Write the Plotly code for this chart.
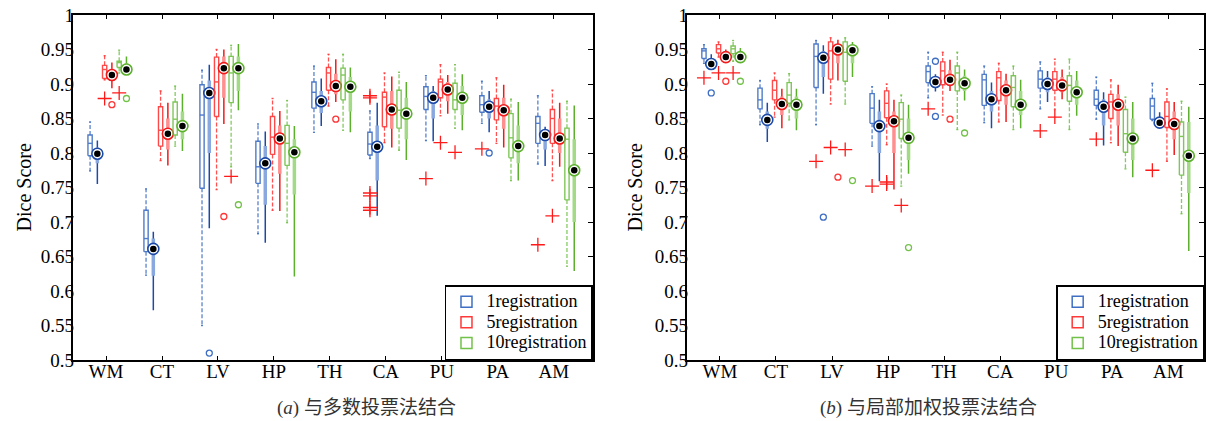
import plotly.graph_objects as go

categories = ["WM", "CT", "LV", "HP", "TH", "CA", "PU", "PA", "AM"]
series_names = ["1registration", "5registration", "10registration"]
y_ticks = [0.5, 0.55, 0.6, 0.65, 0.7, 0.75, 0.8, 0.85, 0.9, 0.95, 1.0]
y_tick_text = ["0.5", "0.55", "0.6", "0.65", "0.7", "0.75", "0.8", "0.85", "0.9", "0.95", "1"]
captions = ["(<i>a</i>) 与多数投票法结合", "(<i>b</i>) 与局部加权投票法结合"]

# ---- panel (a): standard boxes (lo, q1, median, q3, hi) per category
a_box_1 = [(0.774, 0.796, 0.814, 0.826, 0.845), (0.623, 0.657, 0.676, 0.717, 0.748),
           (0.550, 0.749, 0.855, 0.899, 0.920), (0.683, 0.756, 0.780, 0.817, 0.842),
           (0.830, 0.865, 0.888, 0.903, 0.926), (0.792, 0.797, 0.813, 0.830, 0.861),
           (0.818, 0.863, 0.882, 0.896, 0.912), (0.843, 0.859, 0.870, 0.883, 0.904),
           (0.784, 0.814, 0.843, 0.853, 0.883)]
a_box_5 = [(0.906, 0.908, 0.921, 0.927, 0.941), (0.789, 0.810, 0.833, 0.867, 0.890),
           (0.747, 0.853, 0.903, 0.939, 0.950), (0.717, 0.798, 0.823, 0.853, 0.879),
           (0.868, 0.891, 0.916, 0.924, 0.943), (0.815, 0.838, 0.881, 0.888, 0.916),
           (0.854, 0.880, 0.903, 0.907, 0.928), (0.814, 0.848, 0.868, 0.879, 0.909),
           (0.760, 0.814, 0.850, 0.863, 0.891)]
a_box_10 = [(0.916, 0.924, 0.931, 0.933, 0.949), (0.810, 0.826, 0.849, 0.874, 0.897),
            (0.780, 0.873, 0.916, 0.940, 0.956), (0.699, 0.782, 0.814, 0.840, 0.876),
            (0.833, 0.877, 0.913, 0.923, 0.943), (0.804, 0.836, 0.862, 0.891, 0.917),
            (0.836, 0.863, 0.877, 0.901, 0.928), (0.760, 0.793, 0.822, 0.857, 0.878),
            (0.636, 0.732, 0.820, 0.836, 0.875)]
# ---- panel (a): compact boxes (lo, q1, median, q3, hi)
a_comp_1 = [(0.755, 0.785, 0.799, 0.808, 0.818), (0.572, 0.622, 0.661, 0.676, 0.686),
            (0.691, 0.800, 0.887, 0.905, 0.928), (0.670, 0.725, 0.785, 0.810, 0.831),
            (0.839, 0.858, 0.875, 0.890, 0.908), (0.709, 0.760, 0.809, 0.840, 0.873),
            (0.817, 0.850, 0.880, 0.890, 0.897), (0.830, 0.850, 0.867, 0.878, 0.890),
            (0.781, 0.805, 0.826, 0.833, 0.838)]
a_comp_5 = [(0.894, 0.905, 0.913, 0.922, 0.931), (0.782, 0.805, 0.828, 0.850, 0.873),
            (0.842, 0.880, 0.923, 0.940, 0.950), (0.716, 0.770, 0.821, 0.840, 0.861),
            (0.874, 0.885, 0.897, 0.915, 0.936), (0.808, 0.835, 0.863, 0.890, 0.911),
            (0.857, 0.875, 0.892, 0.903, 0.913), (0.808, 0.835, 0.862, 0.880, 0.899),
            (0.780, 0.800, 0.821, 0.850, 0.873)]
a_comp_10 = [(0.915, 0.918, 0.921, 0.930, 0.940), (0.803, 0.820, 0.839, 0.860, 0.886),
             (0.862, 0.890, 0.923, 0.940, 0.958), (0.621, 0.740, 0.801, 0.820, 0.839),
             (0.830, 0.860, 0.896, 0.910, 0.924), (0.790, 0.820, 0.857, 0.880, 0.903),
             (0.833, 0.855, 0.880, 0.897, 0.914), (0.760, 0.785, 0.810, 0.840, 0.874),
             (0.629, 0.700, 0.775, 0.820, 0.869)]
# outliers: (category, series index, value)
a_plus = [("WM", 1, 0.879), ("WM", 2, 0.887), ("LV", 2, 0.766),
          ("CA", 0, 0.883), ("CA", 0, 0.880), ("CA", 0, 0.742), ("CA", 0, 0.738),
          ("CA", 0, 0.721), ("CA", 0, 0.717), ("PU", 0, 0.763), ("PU", 1, 0.815),
          ("PU", 2, 0.801), ("PA", 0, 0.806), ("AM", 0, 0.667), ("AM", 1, 0.709)]
a_circ = [("WM", 1, 0.870), ("WM", 2, 0.879), ("LV", 0, 0.510), ("LV", 1, 0.708),
          ("LV", 2, 0.725), ("TH", 1, 0.849), ("PA", 0, 0.800)]

# ---- panel (b)
b_box_1 = [(0.930, 0.937, 0.948, 0.951, 0.957), (0.841, 0.864, 0.877, 0.894, 0.905),
           (0.841, 0.895, 0.940, 0.958, 0.963), (0.810, 0.843, 0.865, 0.886, 0.896),
           (0.880, 0.902, 0.918, 0.926, 0.946), (0.844, 0.869, 0.906, 0.914, 0.926),
           (0.864, 0.894, 0.907, 0.919, 0.932), (0.849, 0.869, 0.878, 0.891, 0.910),
           (0.847, 0.849, 0.868, 0.879, 0.901)]
b_box_5 = [(0.939, 0.945, 0.951, 0.957, 0.961), (0.852, 0.877, 0.891, 0.905, 0.916),
           (0.871, 0.907, 0.948, 0.961, 0.967), (0.812, 0.851, 0.872, 0.890, 0.900),
           (0.855, 0.899, 0.919, 0.932, 0.946), (0.845, 0.876, 0.909, 0.918, 0.930),
           (0.863, 0.891, 0.907, 0.918, 0.936), (0.815, 0.850, 0.874, 0.885, 0.906),
           (0.788, 0.837, 0.853, 0.874, 0.893)]
b_box_10 = [(0.933, 0.944, 0.951, 0.955, 0.963), (0.848, 0.872, 0.884, 0.902, 0.915),
            (0.871, 0.904, 0.946, 0.961, 0.967), (0.752, 0.821, 0.849, 0.873, 0.884),
            (0.834, 0.890, 0.916, 0.926, 0.946), (0.834, 0.867, 0.895, 0.912, 0.926),
            (0.834, 0.875, 0.898, 0.912, 0.936), (0.777, 0.801, 0.828, 0.863, 0.881),
            (0.712, 0.768, 0.824, 0.845, 0.875)]
b_comp_1 = [(0.922, 0.925, 0.929, 0.936, 0.943), (0.816, 0.835, 0.848, 0.860, 0.873),
            (0.886, 0.910, 0.938, 0.948, 0.956), (0.759, 0.800, 0.839, 0.860, 0.877),
            (0.889, 0.895, 0.903, 0.910, 0.914), (0.836, 0.860, 0.878, 0.890, 0.902),
            (0.874, 0.888, 0.900, 0.910, 0.919), (0.811, 0.840, 0.867, 0.878, 0.888),
            (0.839, 0.841, 0.844, 0.852, 0.859)]
b_comp_5 = [(0.932, 0.935, 0.939, 0.945, 0.950), (0.836, 0.855, 0.871, 0.882, 0.893),
            (0.905, 0.930, 0.950, 0.957, 0.964), (0.747, 0.800, 0.846, 0.860, 0.877),
            (0.890, 0.897, 0.906, 0.920, 0.935), (0.845, 0.870, 0.891, 0.905, 0.915),
            (0.878, 0.888, 0.898, 0.910, 0.921), (0.810, 0.840, 0.870, 0.885, 0.899),
            (0.797, 0.820, 0.842, 0.860, 0.874)]
b_comp_10 = [(0.932, 0.935, 0.939, 0.945, 0.952), (0.833, 0.850, 0.870, 0.882, 0.893),
             (0.910, 0.930, 0.949, 0.955, 0.961), (0.770, 0.790, 0.822, 0.850, 0.870),
             (0.876, 0.890, 0.901, 0.912, 0.921), (0.836, 0.855, 0.870, 0.890, 0.906),
             (0.854, 0.870, 0.888, 0.905, 0.919), (0.765, 0.790, 0.821, 0.850, 0.874),
             (0.658, 0.742, 0.796, 0.845, 0.867)]
b_plus = [("WM", 0, 0.909), ("WM", 1, 0.916), ("WM", 2, 0.916), ("LV", 0, 0.788),
          ("LV", 1, 0.808), ("LV", 2, 0.805), ("HP", 0, 0.752), ("HP", 1, 0.755),
          ("HP", 1, 0.758), ("HP", 2, 0.724), ("TH", 0, 0.864), ("PU", 0, 0.832),
          ("PU", 1, 0.852), ("PA", 0, 0.820), ("AM", 0, 0.775)]
b_circ = [("WM", 0, 0.887), ("WM", 1, 0.904), ("WM", 2, 0.904), ("LV", 0, 0.707),
          ("LV", 1, 0.765), ("LV", 2, 0.760), ("HP", 2, 0.663), ("TH", 0, 0.933),
          ("TH", 0, 0.853), ("TH", 1, 0.849), ("TH", 2, 0.829)]

# ---- styles
box_col = ["#3f6fc4", "#ff3838", "#72c148"]
line_col = ["#1d4ba8", "#f01c1c", "#5bb02c"]
thick_col = ["#8aa8e0", "#ff8f8f", "#a3da86"]
FONT = "'Liberation Serif', 'Times New Roman', serif"
CJK = "'Liberation Serif', 'Noto Sans CJK SC', serif"
BOX_OFF = [-0.285, -0.025, 0.235]
COMP_SHIFT = 0.13
HW = 0.038
CW = 0.018

fig = go.Figure()
cat_pos = {c: i + 1 for i, c in enumerate(categories)}


def add_panel(boxes, comps, plus, circ, xa, ya, legend_name):
    for s in range(3):
        bx, by, wx, wy = [], [], [], []
        for i, (lo, q1, md, q3, hi) in enumerate(boxes[s]):
            c = i + 1 + BOX_OFF[s]
            bx += [c - HW, c + HW, c + HW, c - HW, c - HW, None, c - HW, c + HW, None,
                   c - CW, c + CW, None, c - CW, c + CW, None]
            by += [q1, q1, q3, q3, q1, None, md, md, None, hi, hi, None, lo, lo, None]
            wx += [c, c, None, c, c, None]
            wy += [q3, hi, None, q1, lo, None]
        fig.add_trace(go.Scatter(x=wx, y=wy, mode="lines", xaxis=xa, yaxis=ya,
                                 line=dict(color=box_col[s], width=1.3, dash="4px,2px"),
                                 opacity=0.85, showlegend=False, hoverinfo="skip"))
        fig.add_trace(go.Scatter(x=bx, y=by, mode="lines", xaxis=xa, yaxis=ya,
                                 line=dict(color=box_col[s], width=1.4),
                                 opacity=0.9, showlegend=False, hoverinfo="skip"))
        tx, ty, kx, ky, mx, my = [], [], [], [], [], []
        for i, (lo, q1, md, q3, hi) in enumerate(comps[s]):
            c = i + 1 + BOX_OFF[s] + COMP_SHIFT
            tx += [c, c, None]
            ty += [lo, hi, None]
            kx += [c, c, None]
            ky += [q1, q3, None]
            mx.append(c)
            my.append(md)
        fig.add_trace(go.Scatter(x=tx, y=ty, mode="lines", xaxis=xa, yaxis=ya,
                                 line=dict(color=line_col[s], width=1.5),
                                 showlegend=False, hoverinfo="skip"))
        fig.add_trace(go.Scatter(x=kx, y=ky, mode="lines", xaxis=xa, yaxis=ya,
                                 line=dict(color=thick_col[s], width=3.5),
                                 showlegend=False, hoverinfo="skip"))
        fig.add_trace(go.Scatter(x=mx, y=my, mode="markers", xaxis=xa, yaxis=ya,
                                 marker=dict(symbol="circle", size=11, color="white",
                                             line=dict(color=line_col[s], width=1.6)),
                                 showlegend=False, hoverinfo="skip"))
        fig.add_trace(go.Scatter(x=mx, y=my, mode="markers", xaxis=xa, yaxis=ya,
                                 marker=dict(symbol="circle", size=6.5, color="black"),
                                 showlegend=False, hoverinfo="skip"))
        ox = [cat_pos[c] + BOX_OFF[k] + COMP_SHIFT for c, k, v in circ if k == s]
        oy = [v for c, k, v in circ if k == s]
        fig.add_trace(go.Scatter(x=ox, y=oy, mode="markers", xaxis=xa, yaxis=ya,
                                 marker=dict(symbol="circle-open", size=6,
                                             color=box_col[s], line=dict(width=1.3)),
                                 showlegend=False, hoverinfo="skip"))
    px = [cat_pos[c] + BOX_OFF[k] for c, k, v in plus]
    py = [v for c, k, v in plus]
    fig.add_trace(go.Scatter(x=px, y=py, mode="markers", xaxis=xa, yaxis=ya,
                             marker=dict(symbol="cross-thin-open", size=10, color="#ff1a1a",
                                         line=dict(color="#ff1a1a", width=1.3)),
                             showlegend=False, hoverinfo="skip"))
    for s in range(3):
        fig.add_trace(go.Scatter(x=[None], y=[None], mode="markers", xaxis=xa, yaxis=ya,
                                 name='<span style="font-size:18px">%s</span>' % series_names[s],
                                 legend=legend_name,
                                 marker=dict(symbol="square-open", size=11,
                                             color=box_col[s], line=dict(width=1.5))))


add_panel([a_box_1, a_box_5, a_box_10], [a_comp_1, a_comp_5, a_comp_10],
          a_plus, a_circ, "x", "y", "legend")
add_panel([b_box_1, b_box_5, b_box_10], [b_comp_1, b_comp_5, b_comp_10],
          b_plus, b_circ, "x2", "y2", "legend2")
# dummy traces so the right-side tick axes are drawn
fig.add_trace(go.Scatter(x=[None], y=[None], xaxis="x", yaxis="y3", showlegend=False))
fig.add_trace(go.Scatter(x=[None], y=[None], xaxis="x2", yaxis="y4", showlegend=False))

tick_font = dict(family=FONT, size=19, color="black")
xcommon = dict(tickmode="array", tickvals=list(range(1, 10)), ticktext=categories,
               ticks="inside", ticklen=4, tickcolor="black", mirror="ticks",
               showline=True, linewidth=2, linecolor="black", showgrid=False,
               zeroline=False, tickfont=tick_font, automargin=False, ticklabelstandoff=-7)
ycommon = dict(range=[0.5, 1.0], tickmode="array", tickvals=y_ticks, ticktext=y_tick_text,
               ticks="", mirror=True, showline=True, linewidth=2, linecolor="black",
               showgrid=False, zeroline=False, tickfont=tick_font, ticklabelstandoff=-7,
               automargin=False)
yright = dict(range=[0.5, 1.0], tickmode="array", tickvals=y_ticks, ticks="inside",
              ticklen=5, tickcolor="black", showticklabels=False, showline=False,
              showgrid=False, zeroline=False, side="right")

leg_common = dict(xanchor="right", yanchor="bottom", y=0, bgcolor="white",
                  bordercolor="black", borderwidth=1.5,
                  font=dict(family=FONT, size=13.5, color="black"))

fig.update_layout(
    width=1206, height=421,
    margin=dict(l=0, r=0, t=15, b=61),
    paper_bgcolor="white", plot_bgcolor="white",
    xaxis=dict(domain=[0.0603, 0.4917], range=[0.405, 9.70], anchor="y", **xcommon),
    yaxis=dict(domain=[0, 1], anchor="x", **ycommon),
    xaxis2=dict(domain=[0.5694, 0.9985], range=[0.407, 9.64], anchor="y2", **xcommon),
    yaxis2=dict(domain=[0, 1], anchor="x2", **ycommon),
    yaxis3=dict(overlaying="y", anchor="x", **yright),
    yaxis4=dict(overlaying="y2", anchor="x2", **yright),
    legend=dict(x=0.4917, **leg_common),
    legend2=dict(x=0.9985, **leg_common),
    annotations=[
        dict(text="Dice Score", x=23 / 1206, y=0.5, xref="paper", yref="paper",
             xanchor="center", yanchor="middle", textangle=-90, showarrow=False,
             font=dict(family=FONT, size=20, color="black")),
        dict(text="Dice Score", x=634 / 1206, y=0.5, xref="paper", yref="paper",
             xanchor="center", yanchor="middle", textangle=-90, showarrow=False,
             font=dict(family=FONT, size=20, color="black")),
        dict(text=captions[0], x=366 / 1206, y=-0.139, xref="paper", yref="paper",
             xanchor="center", yanchor="middle", showarrow=False,
             font=dict(family=CJK, size=19, color="#333")),
        dict(text=captions[1], x=928 / 1206, y=-0.139, xref="paper", yref="paper",
             xanchor="center", yanchor="middle", showarrow=False,
             font=dict(family=CJK, size=19, color="#333")),
    ],
)

fig.write_html("out.html", config={"displayModeBar": False},
               post_script="document.body.style.margin='0px';")
